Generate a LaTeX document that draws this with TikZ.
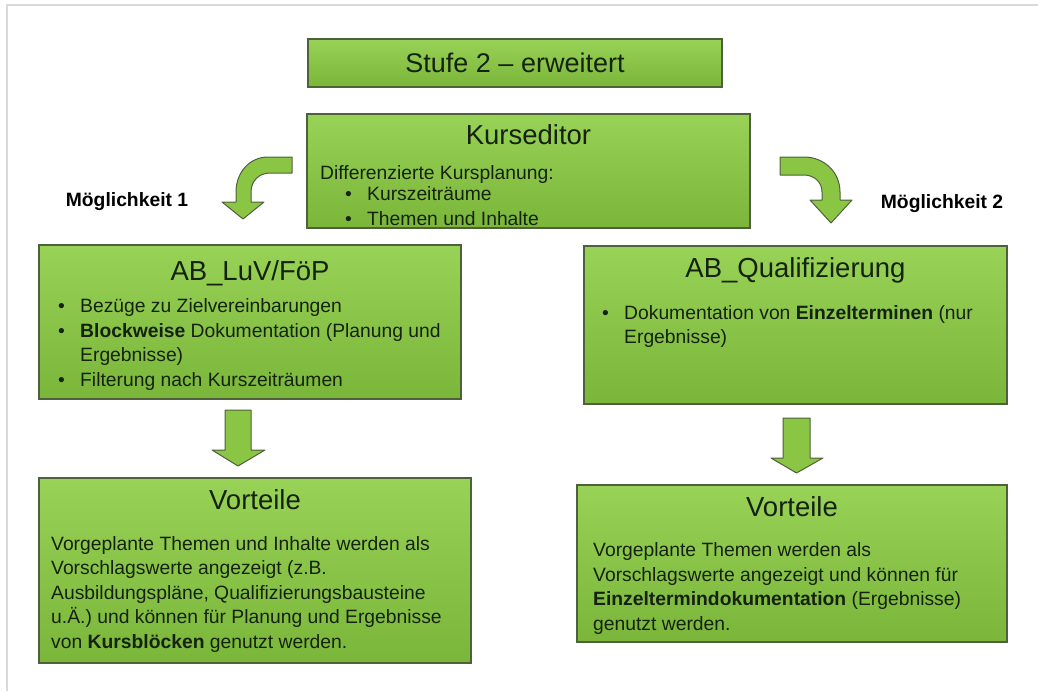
\documentclass[tikz,border=0pt]{standalone}
\usepackage{fontspec}
\setmainfont{Liberation Sans}
\definecolor{kastenoben}{RGB}{152,210,86}
\definecolor{kastenunten}{RGB}{122,182,58}
\definecolor{kastenrand}{RGB}{78,96,60}
\definecolor{pfeilgruen}{RGB}{138,198,68}
\definecolor{schrift}{RGB}{22,34,16}
\newcommand{\pkt}{\makebox[22pt][l]{\textbullet}}
\begin{document}
\begin{tikzpicture}[x=1pt, y=-1pt]
    \tikzstyle{kasten} = [draw=kastenrand, line width=1.2pt, top color=kastenoben, bottom color=kastenunten, inner sep=0pt, text=schrift]
    \tikzstyle{titel} = [anchor=base, inner sep=0pt, text=schrift, font=\fontsize{27.5}{31}\selectfont]
    \tikzstyle{inhalt} = [anchor=base west, inner sep=0pt, align=left, text=schrift, font=\fontsize{19.3}{24.5}\selectfont]
    \tikzstyle{pfeil} = [draw=kastenrand, line width=1pt, fill=pfeilgruen, line join=round]
    \tikzstyle{moeglich} = [anchor=base, inner sep=0pt, text=black, font=\fontsize{19.3}{24}\selectfont\bfseries]

    \useasboundingbox (0,0) rectangle (1038,691);
    \draw[gray!30, line width=2.5pt] (7,691) -- (7,5) -- (1038,5);

    \node[kasten, minimum width=414pt, minimum height=48pt, font=\fontsize{27}{31}\selectfont] (stufe) at (515,63) {Stufe 2 -- erweitert};

    \node[kasten, minimum width=443pt, minimum height=114pt] (kurs) at (528.5,171) {};
    \node[titel] (kurs-titel) at (528.5,144) {Kurseditor};
    \node[inhalt] (kurs-text) at (320,225) {Differenzierte Kursplanung:\\[-3.5pt]
      \hspace*{25pt}\pkt Kurszeiträume\\
      \hspace*{25pt}\pkt Themen und Inhalte};

    \node[kasten, minimum width=422pt, minimum height=154pt] (luv) at (250,322) {};
    \node[titel] (luv-titel) at (250,280) {AB\_LuV/FöP};
    \node[inhalt] (luv-text) at (58,386) {\pkt Bezüge zu Zielvereinbarungen\\
      \pkt\textbf{Blockweise} Dokumentation (Planung und\\
      \hspace*{22pt}Ergebnisse)\\
      \pkt Filterung nach Kurszeiträumen};

    \node[kasten, minimum width=423pt, minimum height=158pt] (quali) at (795.5,325) {};
    \node[titel] (quali-titel) at (795.5,277) {AB\_Qualifizierung};
    \node[inhalt] (quali-text) at (602,343.5) {\pkt Dokumentation von \textbf{Einzelterminen} (nur\\
      \hspace*{22pt}Ergebnisse)};

    \node[kasten, minimum width=432pt, minimum height=185pt] (vorl) at (255,570.5) {};
    \node[titel] (vorl-titel) at (255,509) {Vorteile};
    \node[inhalt] (vorl-text) at (51,648) {Vorgeplante Themen und Inhalte werden als\\
      Vorschlagswerte angezeigt (z.B.\\
      Ausbildungspläne, Qualifizierungsbausteine\\
      u.Ä.) und können für Planung und Ergebnisse\\
      von \textbf{Kursblöcken} genutzt werden.};

    \node[kasten, minimum width=430pt, minimum height=157pt] (vorr) at (792,563.5) {};
    \node[titel] (vorr-titel) at (792,516) {Vorteile};
    \node[inhalt] (vorr-text) at (593,630) {Vorgeplante Themen werden als\\
      Vorschlagswerte angezeigt und können für\\
      \textbf{Einzeltermindokumentation} (Ergebnisse)\\
      genutzt werden.};

    \node[moeglich] (m1) at (127,206) {Möglichkeit 1};
    \node[moeglich] (m2) at (942,208) {Möglichkeit 2};

    \draw[pfeil] (292,157) -- (268,157) .. controls (250,157) and (236,172) .. (236,192)
      -- (236,202) -- (222,202) -- (243,219) -- (264,202) -- (251,202) -- (251,192)
      .. controls (251,181) and (259,173) .. (270,173) -- (292,173) -- cycle;
    \draw[pfeil] (780,157) -- (804,157) .. controls (824,157) and (840,172) .. (840,192)
      -- (840,200) -- (852,200) -- (831,223) -- (810,200) -- (822,200) -- (822,192)
      .. controls (822,182) and (814,175) .. (804,175) -- (780,175) -- cycle;

    \draw[pfeil] (225,410) -- (251,410) -- (251,450) -- (265,450) -- (238,466)
      -- (212,450) -- (225,450) -- cycle;
    \draw[pfeil] (783,418) -- (810,418) -- (810,458) -- (823,458) -- (796.5,473)
      -- (771,458) -- (783,458) -- cycle;
\end{tikzpicture}
\end{document}
